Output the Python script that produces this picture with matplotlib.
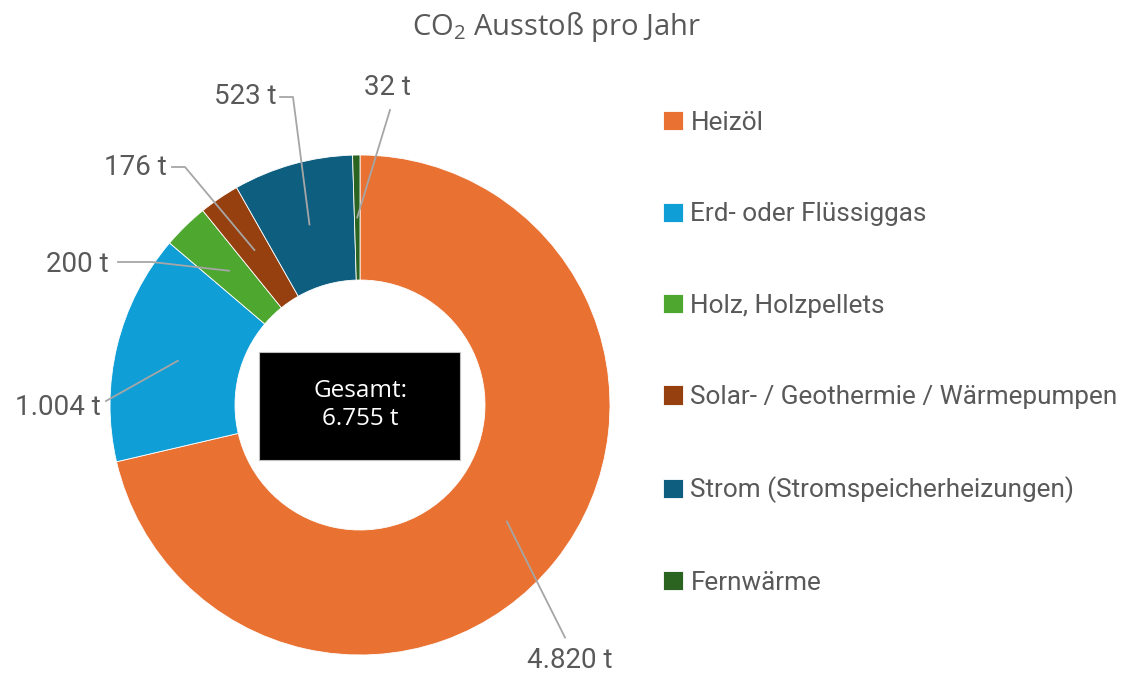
import matplotlib
matplotlib.use('Agg')
import matplotlib.pyplot as plt
import numpy as np
from matplotlib.patches import Rectangle

# data
categories = ['Heizöl', 'Erd- oder Flüssiggas', 'Holz, Holzpellets',
              'Solar- / Geothermie / Wärmepumpen', 'Strom (Stromspeicherheizungen)',
              'Fernwärme']
values = [4820, 1004, 200, 176, 523, 32]
colors = ['#E97132', '#0F9ED5', '#4EA72E', '#97400F', '#0E5E80', '#2B6321']

# label positions (data coords) and optional elbow points for leader lines
label_pos = [(0.84, -1.02), (-1.21, -0.01), (-1.13, 0.56),
             (-0.90, 0.95), (-0.46, 1.236), (0.11, 1.27)]
leader_ends = [[(0.82, -0.93)],
               [(-1.016, 0.016)],
               [(-0.968, 0.572), (-0.832, 0.572)],
               [(-0.752, 0.952), (-0.70, 0.952)],
               [(-0.32, 1.232), (-0.268, 1.232)],
               [(0.12, 1.18)]]


def fmt(v):
    return f"{v:,}".replace(",", ".") + " t"


plt.rcParams['mathtext.fontset'] = 'custom'
plt.rcParams['mathtext.rm'] = 'Open Sans'

fig = plt.figure(figsize=(11.3, 6.75), dpi=100)
W, H = 1130, 675
cx, cy, R = 360, 405, 250
ax = fig.add_axes([(cx - R) / W, (H - cy - R) / H, 2 * R / W, 2 * R / H])

wedges, _ = ax.pie(values, colors=colors, startangle=90, counterclock=False,
                   radius=1.0,
                   wedgeprops=dict(width=0.5, edgecolor='white', linewidth=0.6))
ax.set_xlim(-1, 1)
ax.set_ylim(-1, 1)
ax.set_aspect('equal')
ax.axis('off')

# leader lines + value labels
total = sum(values)
for w, v, pos, ends in zip(wedges, values, label_pos, leader_ends):
    ang = np.deg2rad((w.theta1 + w.theta2) / 2)
    ax0, ay0 = 0.75 * np.cos(ang), 0.75 * np.sin(ang)
    pts = [(ax0, ay0)] + ends[::-1]
    xs, ys = zip(*pts)
    ax.plot(xs, ys, color='#A6A6A6', lw=1.3, clip_on=False)
    ax.text(pos[0], pos[1], fmt(v), ha='center', va='center',
            fontsize=20, color='#595959', family='Roboto')

# center box
ax.add_patch(Rectangle((-0.404, -0.22), 0.804, 0.432, facecolor='black',
                       edgecolor='#BFBFBF', lw=0.8, zorder=3))
ax.text(0, 0, 'Gesamt:\n' + fmt(total), ha='center', va='center',
        color='white', fontsize=17.5, family='Open Sans', zorder=4,
        linespacing=1.25)

# title
fig.text(557 / W, 1 - 27 / H, r'CO$_\mathrm{2}$ Ausstoß pro Jahr', ha='center',
         va='center', fontsize=21, color='#595959', family='Open Sans')

# legend
ax.legend(wedges, categories, loc='upper left',
          bbox_to_anchor=(663 / W, 1 - 111 / H), bbox_transform=fig.transFigure,
          frameon=False, labelcolor='#595959', borderpad=0, borderaxespad=0,
          prop={'family': 'Roboto', 'size': 18.8},
          handlelength=0.75, handleheight=0.75, handletextpad=0.3,
          labelspacing=2.58)

fig.savefig('out.png', dpi=100)
